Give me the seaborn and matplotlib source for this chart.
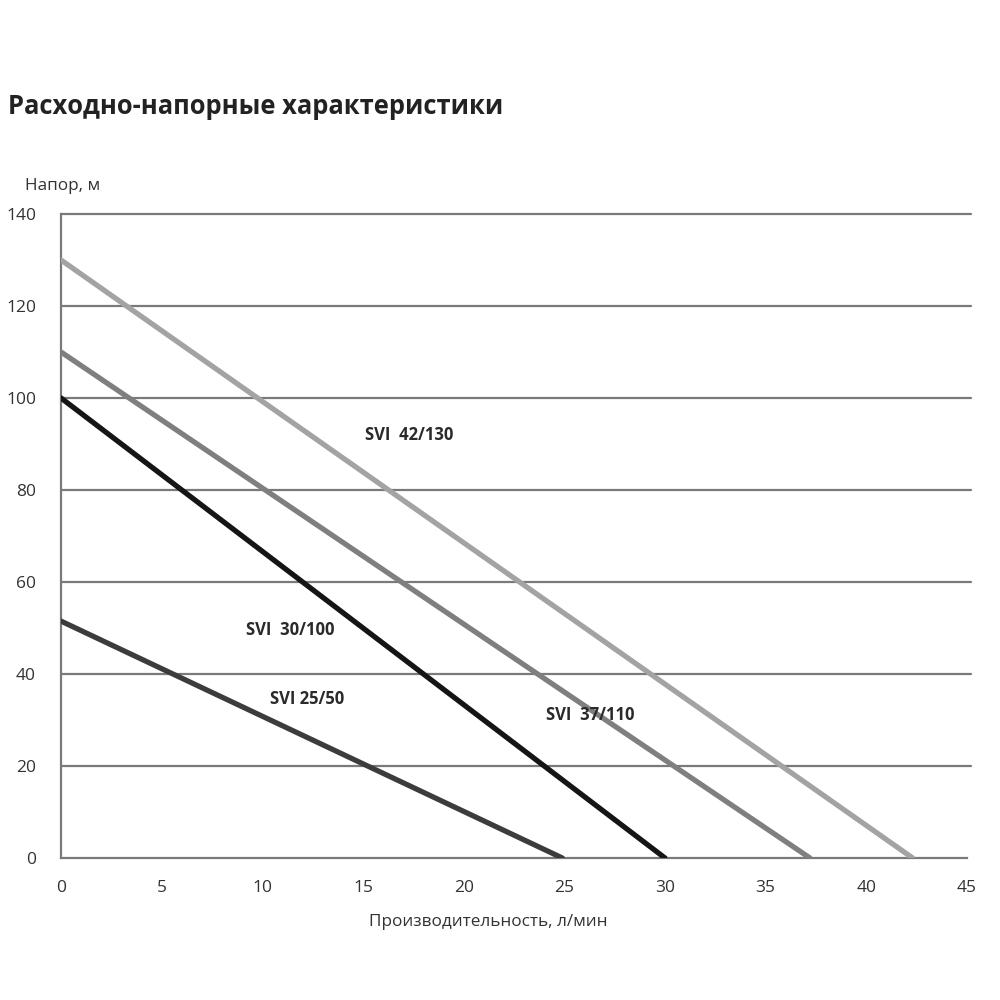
import matplotlib.pyplot as plt
import pandas as pd
import seaborn as sns

# Pump curves: flow (l/min) vs head (m), straight lines between two points
models = ['SVI 42/130', 'SVI 37/110', 'SVI 30/100', 'SVI 25/50']
flow_start = [0, 0, 0, 0]
flow_end = [42.3, 37.2, 30.0, 24.9]
head_start = [130, 110, 100, 51.5]
head_end = [0, 0, 0, 0]

label_text = ['SVI  42/130', 'SVI  37/110', 'SVI  30/100', 'SVI 25/50']
label_x = [17.3, 26.3, 11.4, 12.2]
label_y = [92, 31, 49.5, 34.5]

colors = ['#a3a3a3', '#7f7f7f', '#151515', '#3c3c3c']

rows = []
for m, x0, x1, y0, y1 in zip(models, flow_start, flow_end, head_start, head_end):
    rows.append({'model': m, 'flow': x0, 'head': y0})
    rows.append({'model': m, 'flow': x1, 'head': y1})
df = pd.DataFrame(rows)

sns.set_style('white')
plt.rcParams['font.family'] = ['Open Sans', 'DejaVu Sans']

fig = plt.figure(figsize=(10, 10), dpi=100)
ax = fig.add_axes([0.061, 0.142, 0.906, 0.644])

for y in range(20, 141, 20):
    ax.axhline(y, color='#7a7a7a', lw=1.6, zorder=1, xmax=1.004, clip_on=False)

sns.lineplot(data=df, x='flow', y='head', hue='model', hue_order=models,
             palette=colors, lw=3.8, ax=ax, legend=False, zorder=3)

for t, x, y in zip(label_text, label_x, label_y):
    ax.text(x, y, t, ha='center', va='center', fontsize=12,
            fontweight='bold', color='#2a2a2a', zorder=4)

ax.set_xlim(0, 45)
ax.set_ylim(0, 140)
ax.set_xticks(range(0, 46, 5))
ax.set_yticks(range(0, 141, 20))
for s in ['top', 'right']:
    ax.spines[s].set_visible(False)
for s in ['left', 'bottom']:
    ax.spines[s].set_color('#7a7a7a')
    ax.spines[s].set_linewidth(1.6)
ax.tick_params(axis='both', direction='out', length=4, width=1.6,
               color='#7a7a7a', labelsize=12.5, labelcolor='#333333')
ax.tick_params(axis='x', pad=12)
ax.tick_params(axis='y', pad=14)
ax.set_xlabel('')
ax.set_ylabel('')

fig.text(0.488, 0.078, 'Производительность, л/мин', fontsize=12.3,
         color='#333333', ha='center', va='center')
fig.text(0.025, 0.814, 'Напор, м', fontsize=12.3, color='#333333', va='center')
fig.text(0.008, 0.893, 'Расходно-напорные характеристики', fontsize=18.4,
         fontweight='bold', color='#222222', va='center')

fig.savefig('out.png', dpi=100)
